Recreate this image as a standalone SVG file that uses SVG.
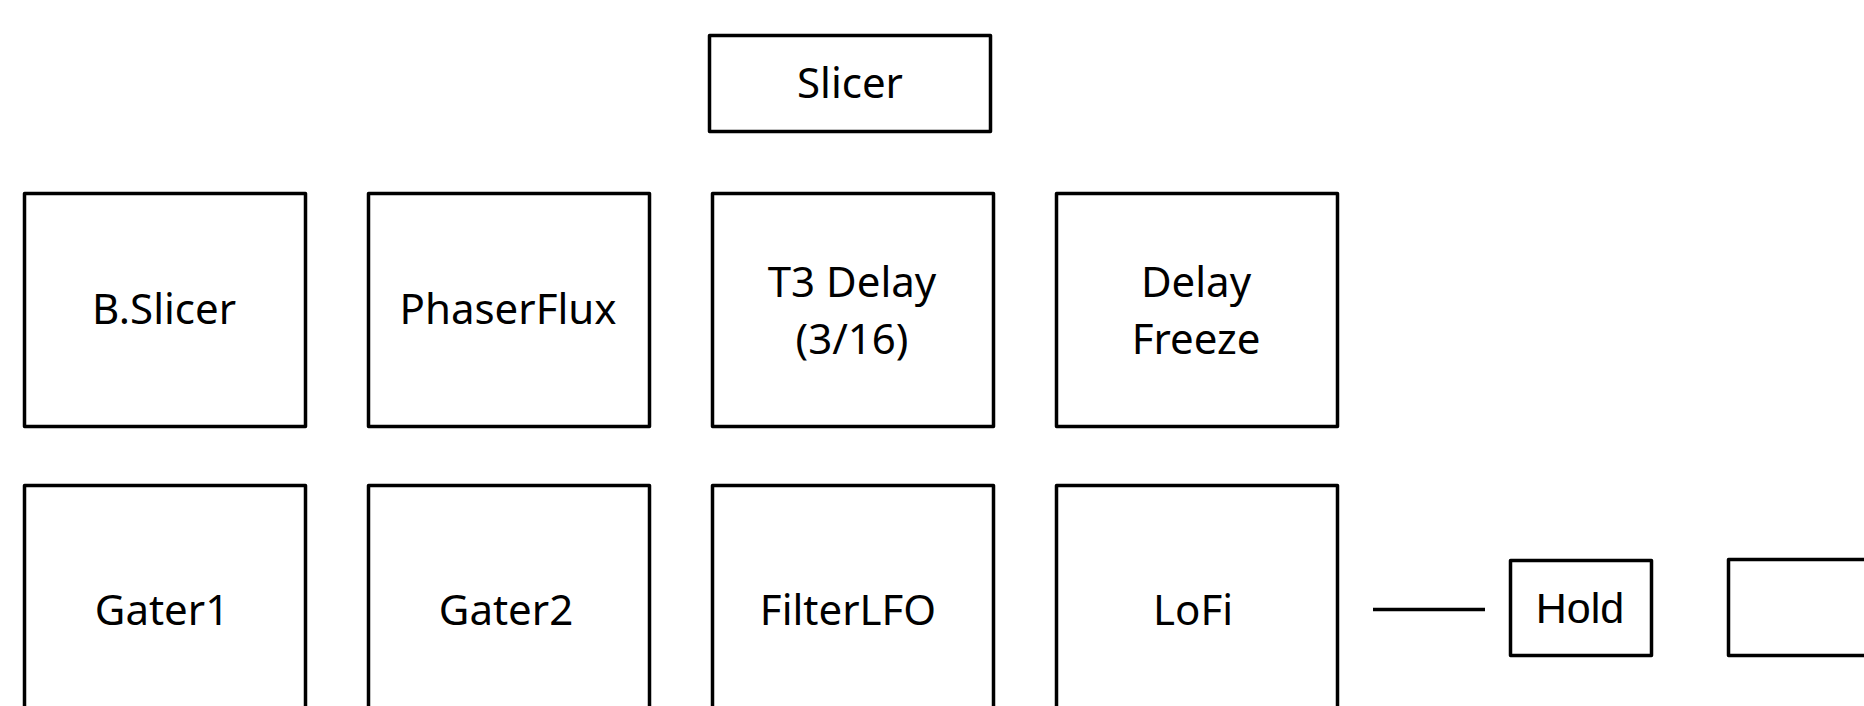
<svg xmlns="http://www.w3.org/2000/svg" width="1864" height="706" viewBox="0 0 1864 706">
<style>
.box{fill:#fff;stroke:#000;stroke-width:3.5;stroke-linejoin:round}
.t{font-family:"Noto Sans","Open Sans",sans-serif;font-size:42px;fill:#000;text-anchor:middle}
.h{font-family:"Liberation Sans",Arial,sans-serif;font-size:43px;fill:#000;text-anchor:middle}
.c{stroke:#000;stroke-width:3.5;fill:none}
</style>
<rect width="1864" height="706" fill="#fff"/>
<g id="slicer"><rect class="box" x="709.5" y="35.5" width="281" height="96"/><text class="t" x="850" y="98">Slicer</text></g>
<g id="bslicer"><rect class="box" x="24.5" y="193.5" width="281" height="233"/><text class="t" x="164" y="324">B.Slicer</text></g>
<g id="phaserflux"><rect class="box" x="368.5" y="193.5" width="281" height="233"/><text class="t" x="508" y="324">PhaserFlux</text></g>
<g id="t3delay"><rect class="box" x="712.5" y="193.5" width="281" height="233"/><text class="t" x="852" y="297">T3 Delay</text><text class="t" x="852" y="354">(3/16)</text></g>
<g id="delayfreeze"><rect class="box" x="1056.5" y="193.5" width="281" height="233"/><text class="t" x="1196" y="297">Delay</text><text class="t" x="1196" y="354">Freeze</text></g>
<g id="gater1"><rect class="box" x="24.5" y="485.5" width="281" height="254"/><text class="t" x="162" y="625">Gater1</text></g>
<g id="gater2"><rect class="box" x="368.5" y="485.5" width="281" height="254"/><text class="t" x="506" y="625">Gater2</text></g>
<g id="filterlfo"><rect class="box" x="712.5" y="485.5" width="281" height="254"/><text class="t" x="848" y="625">FilterLFO</text></g>
<g id="lofi"><rect class="box" x="1056.5" y="485.5" width="281" height="254"/><text class="t" x="1193" y="625">LoFi</text></g>
<g id="hold"><rect class="box" x="1510.5" y="560.5" width="141" height="95"/><text class="h" x="1580" y="623">Hold</text></g>
<g id="blank"><rect class="box" x="1728.5" y="559.5" width="200" height="96"/></g>
<g id="connectors"><line class="c" x1="1373" y1="609.5" x2="1485" y2="609.5"/></g>
</svg>
